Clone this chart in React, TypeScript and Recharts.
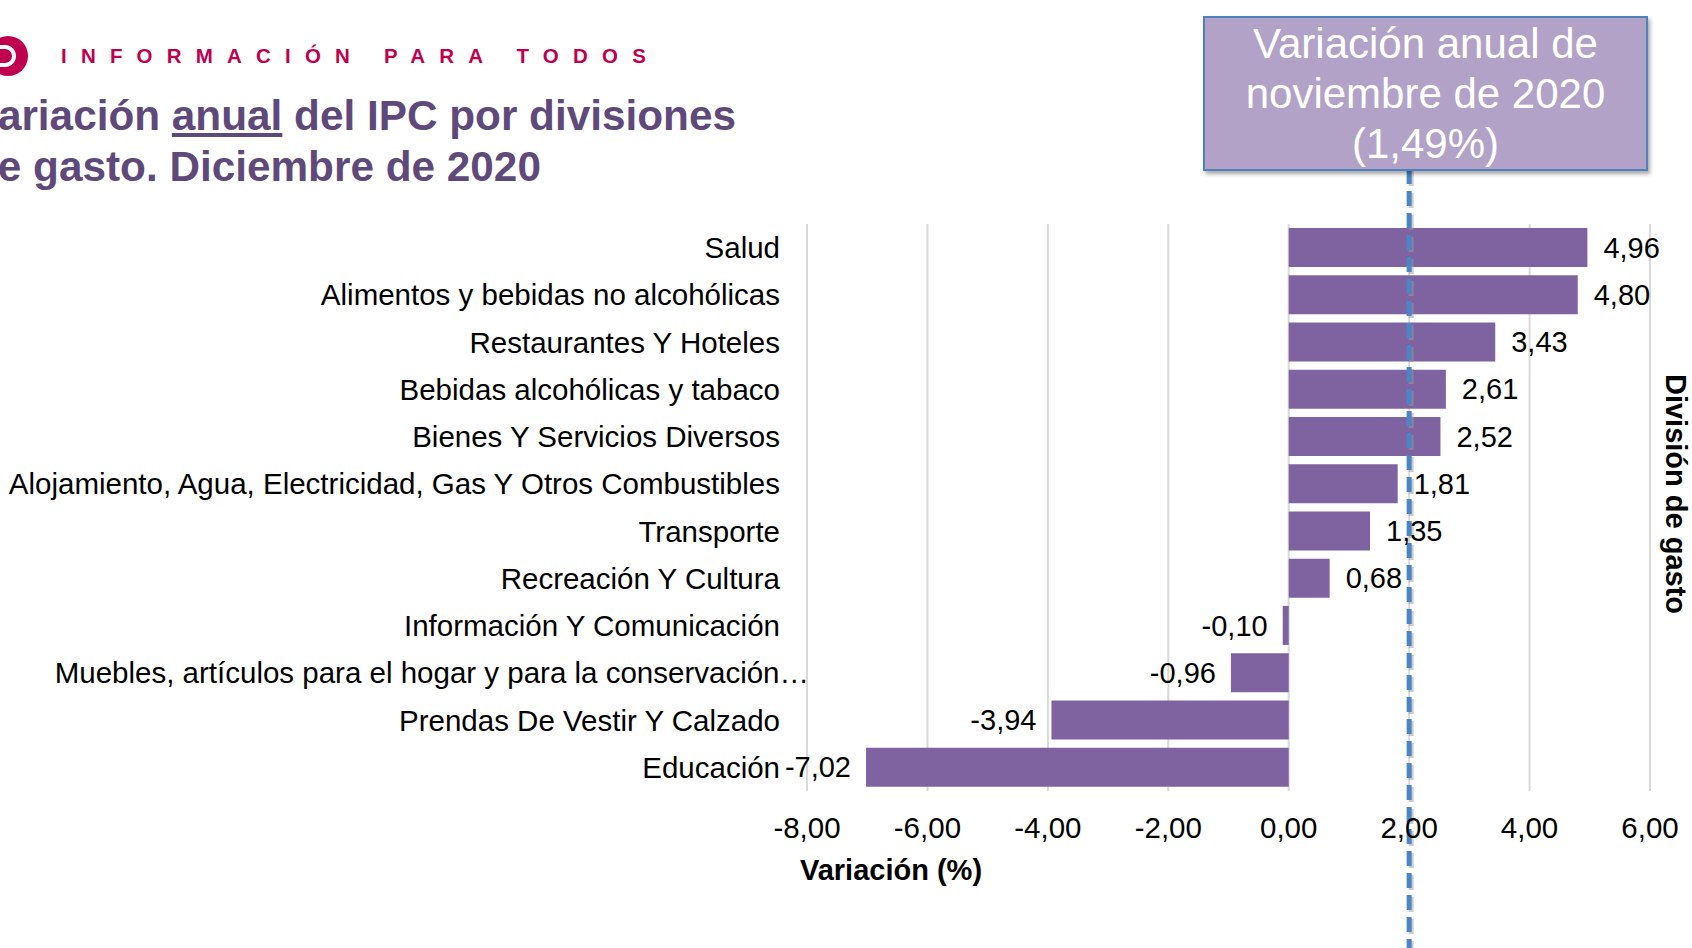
import React from 'react';
import { BarChart, Bar, XAxis, YAxis, CartesianGrid, ReferenceLine, LabelList } from 'recharts';

// División de gasto, IPC diciembre 2020
const categories = [
  'Salud',
  'Alimentos y bebidas no alcohólicas',
  'Restaurantes Y Hoteles',
  'Bebidas alcohólicas y tabaco',
  'Bienes Y Servicios Diversos',
  'Alojamiento, Agua, Electricidad, Gas Y Otros Combustibles',
  'Transporte',
  'Recreación Y Cultura',
  'Información Y Comunicación',
  'Muebles, artículos para el hogar y para la conservación…',
  'Prendas De Vestir Y Calzado',
  'Educación',
];
const variation = [4.96, 4.8, 3.43, 2.61, 2.52, 1.81, 1.35, 0.68, -0.1, -0.96, -3.94, -7.02];
const xTicks = [-8, -6, -4, -2, 0, 2, 4, 6];
const novemberLine = 2;

const data = categories.map((name, i) => ({ name, value: variation[i] }));

const FONT = '"Liberation Sans", Arial, sans-serif';
const BAR = '#7F63A1';
const fmt = (v: number) => v.toFixed(2).replace('.', ',');

const CategoryTick = (props: any) => {
  const { x, y, payload } = props;
  const text: string = payload.value;
  const dx = text.endsWith('…') ? 29 : 0;
  return (
    <text x={x + dx} y={y} dy="0.355em" textAnchor="end" fontSize={29.5} fill="#000" fontFamily={FONT}>
      {text}
    </text>
  );
};

const ValueLabel = (props: any) => {
  const vb = props.viewBox || props;
  const { x, y, width, height } = vb;
  const value = props.value as number;
  const left = Math.min(x, x + width);
  const right = Math.max(x, x + width);
  const pos = value >= 0;
  return (
    <text
      x={pos ? right + 16 : left - 15}
      y={y + height / 2}
      dy="0.355em"
      textAnchor={pos ? 'start' : 'end'}
      fontSize={29}
      fill="#000"
      fontFamily={FONT}
    >
      {fmt(value)}
    </text>
  );
};

// dashed marker runs from the annotation box down past the bottom of the page
const DashedLine = (props: any) => {
  const x = props.x1;
  return (
    <g>
      <line x1={x + 2} x2={x + 2} y1={171} y2={948} stroke="#9a9a9a" strokeOpacity={0.5} strokeWidth={5} strokeDasharray="15 7" />
      <line x1={x} x2={x} y1={169} y2={948} stroke="#4A85C6" strokeWidth={5} strokeDasharray="15 7" />
    </g>
  );
};

export default function App() {
  return (
    <div style={{ position: 'absolute', left: 0, top: 0, width: 1692, height: 948, overflow: 'hidden', background: '#fff', fontFamily: FONT }}>
      {/* logo + header */}
      <svg style={{ position: 'absolute', left: 0, top: 0 }} width={60} height={100}>
        <circle cx={8} cy={56} r={20} fill="#C0004E" />
        <path d="M -4 47 h 9 a 9 9 0 0 1 0 18 h -9" fill="none" stroke="#fff" strokeWidth={4} />
      </svg>
      <div style={{ position: 'absolute', left: 61, top: 43, fontSize: 20.5, fontWeight: 'bold', letterSpacing: 14.2, color: '#C0004E', whiteSpace: 'nowrap', lineHeight: '26px' }}>
        INFORMACIÓN PARA TODOS
      </div>
      <div style={{ position: 'absolute', left: -28, top: 90, fontSize: 42.3, fontWeight: 'bold', color: '#5F497A', lineHeight: '51px', whiteSpace: 'nowrap' }}>
        <div>Variación <span style={{ textDecoration: 'underline' }}>anual</span> del IPC por divisiones</div>
        <div>de gasto. Diciembre de 2020</div>
      </div>

      <BarChart
        width={1692}
        height={948}
        data={data}
        layout="vertical"
        margin={{ top: 224, right: 42, bottom: 57, left: 0 }}
        barCategoryGap="8.3%"
      >
        <CartesianGrid horizontal={false} stroke="#D9D9D9" strokeWidth={2} />
        <XAxis
          type="number"
          domain={[-8, 6]}
          ticks={xTicks}
          tickFormatter={fmt}
          axisLine={false}
          tickLine={false}
          tickSize={0}
          tickMargin={26}
          height={100}
          tick={{ fontSize: 29.5, fill: '#000', fontFamily: FONT }}
          label={{
            content: (p: any) => (
              <text x={p.viewBox.x + 84} y={p.viewBox.y + 89} textAnchor="middle" fontSize={29} fontWeight="bold" fill="#000" fontFamily={FONT}>
                Variación (%)
              </text>
            ),
          }}
        />
        <YAxis
          type="category"
          dataKey="name"
          width={807}
          axisLine={false}
          tickLine={false}
          tickSize={0}
          tickMargin={27}
          interval={0}
          tick={<CategoryTick />}
        />
        <Bar dataKey="value" fill={BAR} isAnimationActive={false}>
          <LabelList dataKey="value" content={<ValueLabel />} />
        </Bar>
        <ReferenceLine x={novemberLine} shape={<DashedLine />} ifOverflow="visible" />
      </BarChart>

      {/* annotation box */}
      <div
        style={{
          position: 'absolute',
          left: 1203,
          top: 16,
          width: 441,
          height: 150,
          background: '#B3A2C7',
          border: '2px solid #4F81BD',
          boxShadow: '2px 3px 4px rgba(0,0,0,0.35)',
          color: '#fff',
          fontSize: 42,
          lineHeight: '50px',
          textAlign: 'center',
          paddingTop: 1,
        }}
      >
        Variación anual de
        <br />
        noviembre de 2020
        <br />
        (1,49%)
      </div>

      <div
        style={{
          position: 'absolute',
          left: 1675,
          top: 494,
          transform: 'translate(-50%, -50%) rotate(90deg)',
          fontSize: 29,
          fontWeight: 'bold',
          whiteSpace: 'nowrap',
          color: '#000',
        }}
      >
        División de gasto
      </div>
    </div>
  );
}
